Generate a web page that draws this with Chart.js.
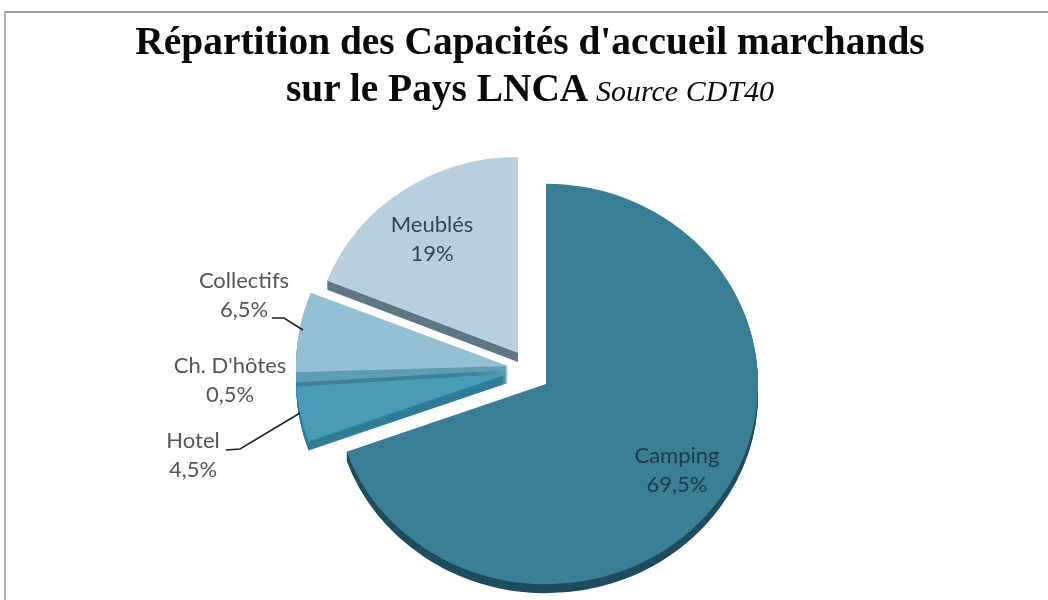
<!DOCTYPE html>
<html lang="fr">
<head>
<meta charset="utf-8">
<title>Répartition des Capacités d'accueil marchands</title>
<script src="https://cdn.jsdelivr.net/npm/chart.js@4"></script>
<style>
  html, body { margin: 0; background: #fff; overflow: hidden; }
  #wrap { position: relative; width: 1048px; height: 600px; }
  #frame { position: absolute; left: 4px; top: 11px; right: -4px; bottom: -4px;
           border-top: 2px solid #9c9c9c; border-left: 2px solid #b4b4b4; }
  #title { position: absolute; left: 0; top: 18px; width: 1060px; text-align: center;
           font: bold 39.4px/47px "Liberation Serif", serif; color: #0a0a0a; }
  #title i { font-weight: normal; font-size: 30px; }
  canvas { position: absolute; left: 0; top: 0; }
</style>
</head>
<body>
<div id="wrap">
  <div id="frame"></div>
  <canvas id="chart" width="1048" height="600"></canvas>
  <div id="title">Répartition des Capacités d'accueil marchands<br>sur le Pays LNCA <i>Source CDT40</i></div>
</div>
<script>
// Values (percent)
const categories = ["Camping", "Hotel", "Ch. D'hôtes", "Collectifs", "Meublés"];
const shares = [69.5, 4.5, 0.5, 6.5, 19];
const shareLabels = ["69,5%", "4,5%", "0,5%", "6,5%", "19%"];

const topColors = ["#3a7e95", "#4a9bb8", "#5d9db5", "#93bfd3", "#b8cfdd"];
const sideColors = ["#1f4d5f", "#2f7d97", "#3f8199", "#5d9db5", "#5f7884"];
const labelColors = ["#1d3c4e", "#555555", "#555555", "#555555", "#2f4a5c"];

// Where each slice is pulled to (px) and how it is flattened, the pie is tilted
const sliceShift = [[16, 0], [-22, -10], [-22, -14], [-22, -18], [-12, -31]];
const sliceScale = [[1, 0.945], [1, 0.94], [1, 0.94], [1, 0.94], [0.968, 0.925]];
const labelAnchor = [[677, 456], [193, 441], [230, 366], [244, 281], [432, 225]];
const leaderLines = [
  [[272, 318], [284, 318], [303, 330]],
  [[226, 450], [240, 449], [300, 413]],
];

const PIE_DEPTH = 9;

const piePlugin = {
  id: "tiltedPie",
  beforeDatasetDraw(chart, args) {
    const { ctx } = chart;
    const arcs = args.meta.data;
    const cx = arcs[0].x;
    const cy = arcs[0].y;

    const drawSlices = (colors, yExtra) => {
      arcs.forEach((arc, i) => {
        ctx.save();
        ctx.translate(sliceShift[i][0], sliceShift[i][1] + yExtra);
        ctx.translate(cx, cy);
        ctx.scale(sliceScale[i][0], sliceScale[i][1]);
        ctx.translate(-cx, -cy);
        const keep = arc.options.backgroundColor;
        arc.options.backgroundColor = colors[i];
        arc.draw(ctx);
        arc.options.backgroundColor = keep;
        ctx.restore();
      });
    };

    // side wall first, then the top face over it
    for (let d = PIE_DEPTH; d > 0; d--) drawSlices(sideColors, d);
    drawSlices(topColors, 0);
    return false;
  },
  afterDraw(chart) {
    const { ctx } = chart;
    ctx.save();
    ctx.strokeStyle = "#222222";
    ctx.lineWidth = 1.6;
    leaderLines.forEach((pts) => {
      ctx.beginPath();
      pts.forEach((p, i) => (i ? ctx.lineTo(p[0], p[1]) : ctx.moveTo(p[0], p[1])));
      ctx.stroke();
    });

    ctx.font = '22px Lato, sans-serif';
    ctx.textAlign = "center";
    ctx.textBaseline = "middle";
    categories.forEach((name, i) => {
      ctx.fillStyle = labelColors[i];
      ctx.fillText(name, labelAnchor[i][0], labelAnchor[i][1]);
      ctx.fillText(shareLabels[i], labelAnchor[i][0], labelAnchor[i][1] + 29);
    });
    ctx.restore();
  },
};

new Chart(document.getElementById("chart"), {
  type: "pie",
  data: {
    labels: categories,
    datasets: [{ data: shares, backgroundColor: topColors, borderWidth: 0 }],
  },
  options: {
    responsive: false,
    animation: false,
    radius: 212,
    layout: { padding: { left: 12, top: 168 } },
    plugins: { legend: { display: false }, tooltip: { enabled: false } },
  },
  plugins: [piePlugin],
});
</script>
</body>
</html>
